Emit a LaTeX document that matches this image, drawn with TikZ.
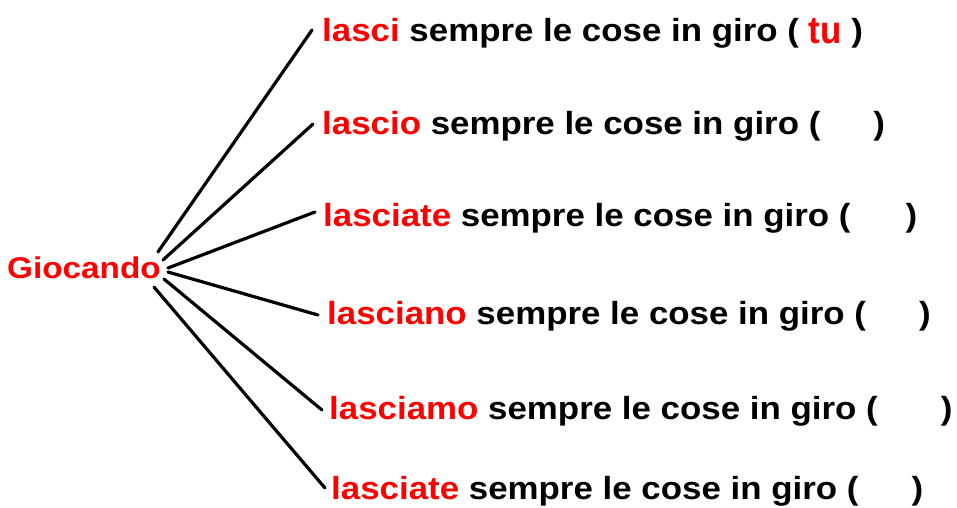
\documentclass[tikz,border=0pt]{standalone}
\usepackage{graphicx}
\usepackage{fontspec}
\setmainfont{Liberation Sans}
\newcommand{\widetext}[2][1.09]{\scalebox{#1}[1]{#2}}
\begin{document}
\begin{tikzpicture}[x=1pt,y=-1pt,font=\bfseries\fontsize{32}{32}\selectfont,
    row/.style={anchor=base west,inner sep=0pt},
    link/.style={line width=3.2pt,line cap=round}]
    \useasboundingbox (0,0) rectangle (957,507);

    \node[row,text=red,font=\bfseries\fontsize{30}{30}\selectfont] (g) at (7,278) {\widetext[1.11]{Giocando}};

    \node[row] (r1) at (322,41) {\widetext{\textcolor{red}{lasci} sempre le cose in giro ( \raisebox{-2pt}{\scalebox{1}[1.2]{\textcolor{red}{tu}}} )}};
    \node[row] (r2) at (322,134) {\widetext{\textcolor{red}{lascio} sempre le cose in giro (\hspace{1.52em})}};
    \node[row] (r3) at (323,226) {\widetext{\textcolor{red}{lasciate} sempre le cose in giro (\hspace{1.58em})}};
    \node[row] (r4) at (327,324) {\widetext{\textcolor{red}{lasciano} sempre le cose in giro (\hspace{1.52em})}};
    \node[row] (r5) at (329,419) {\widetext{\textcolor{red}{lasciamo} sempre le cose in giro (\hspace{1.81em})}};
    \node[row] (r6) at (331,499) {\widetext{\textcolor{red}{lasciate} sempre le cose in giro (\hspace{1.52em})}};

    \draw[link] ([shift={(-3,-26)}]g.base east) -- ([shift={(-10,-11)}]r1.base west);
    \draw[link] ([shift={(2,-18)}]g.base east) -- ([shift={(-9,-10)}]r2.base west);
    \draw[link] ([shift={(7,-10)}]g.base east) -- ([shift={(-8,-14)}]r3.base west);
    \draw[link] ([shift={(7,-6)}]g.base east) -- ([shift={(-9,-9)}]r4.base west);
    \draw[link] ([shift={(3,1)}]g.base east) -- ([shift={(-7,-9)}]r5.base west);
    \draw[link] ([shift={(-7,9)}]g.base east) -- ([shift={(-6,-11)}]r6.base west);
\end{tikzpicture}
\end{document}
